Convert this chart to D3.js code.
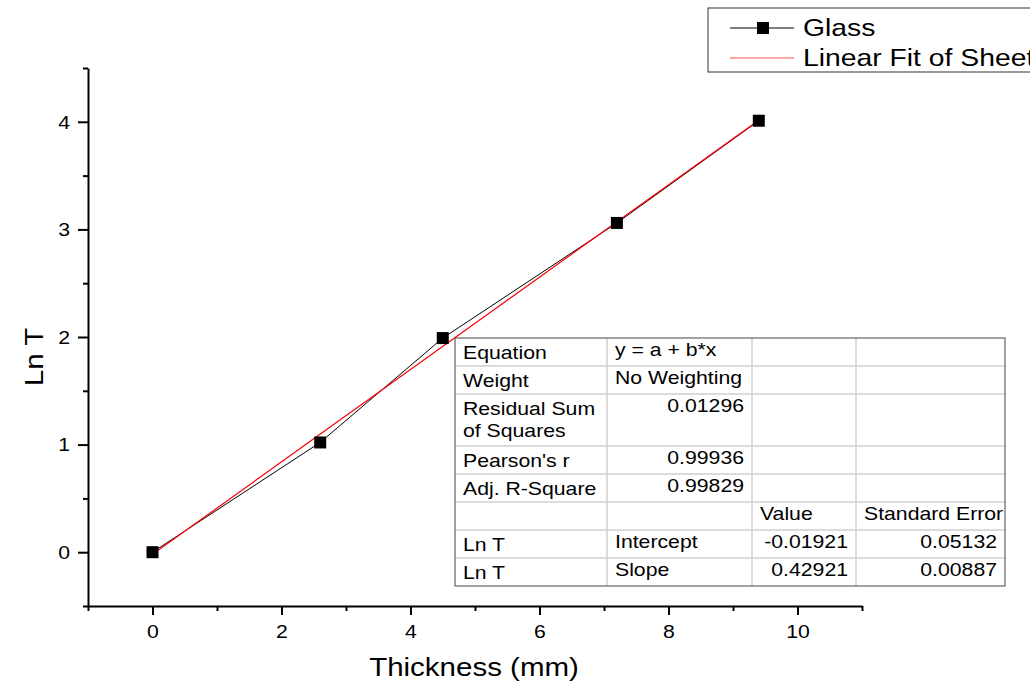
<!DOCTYPE html>
<html>
<head>
<meta charset="utf-8">
<script src="https://cdn.jsdelivr.net/npm/d3@7"></script>
<style>
  body { margin: 0; background: #fff; }
  svg { font-family: "Liberation Sans", Arial, sans-serif; display: block; }
  .axis path, .axis line { stroke: #000; stroke-width: 2px; }
  .axis text { font-size: 18px; fill: #000; }
</style>
</head>
<body>
<svg id="chart" width="1030" height="684"></svg>
<script>
// measured points
var thickness = [0, 2.6, 4.5, 7.2, 9.4];
var lnT = [0, 1.02, 1.99, 3.06, 4.01];

// fit result
var intercept = -0.01921, slope = 0.42921;

var xTicks = [0, 2, 4, 6, 8, 10];
var yTicks = [0, 1, 2, 3, 4];
var xMinor = [-1, 1, 3, 5, 7, 9, 11];
var yMinor = [-0.5, 0.5, 1.5, 2.5, 3.5, 4.5];

var legendLabels = ["Glass", "Linear Fit of Sheet1 B"];

// fit statistics table
var statLabels = ["Equation", "Weight", "Residual Sum\nof Squares", "Pearson's r", "Adj. R-Square"];
var statValues = ["y = a + b*x", "No Weighting", "0.01296", "0.99936", "0.99829"];
var paramHeader = ["", "", "Value", "Standard Error"];
var paramRows = [
    ["Ln T", "Intercept", "-0.01921", "0.05132"],
    ["Ln T", "Slope", "0.42921", "0.00887"]
];

var K = 1.18; // the original's text is a bit wider than Arial

// widen text around its own anchor point
function stretch(sel) {
    sel.each(function() {
        var t = d3.select(this),
            tx = +t.attr("x") || 0,
            ty = +t.attr("y") || 0;
        t.attr("transform", "translate(" + tx + "," + ty + ") scale(" + K + ",1) translate(" + (-tx) + "," + (-ty) + ")");
    });
}

var svg = d3.select("#chart"),
    margin = {top: 68, right: 168, bottom: 78, left: 88},
    width = svg.attr("width") - margin.left - margin.right,
    height = svg.attr("height") - margin.top - margin.bottom;

var x = d3.scaleLinear().domain([-1, 11]).range([0, width]),
    y = d3.scaleLinear().domain([-0.5, 4.5]).range([height, 0]);

var g = svg.append("g")
    .attr("transform", "translate(" + margin.left + "," + margin.top + ")");

// minor ticks
g.append("g")
    .attr("class", "axis")
    .attr("transform", "translate(0," + height + ")")
    .call(d3.axisBottom(x).tickValues(xMinor).tickSize(5).tickSizeOuter(0).tickFormat(""))
    .select(".domain").remove();

g.append("g")
    .attr("class", "axis")
    .call(d3.axisLeft(y).tickValues(yMinor).tickSize(5).tickSizeOuter(0).tickFormat(""))
    .select(".domain").remove();

// major axes
g.append("g")
    .attr("class", "axis")
    .attr("transform", "translate(0," + height + ")")
    .call(d3.axisBottom(x).tickValues(xTicks).tickSize(9).tickSizeOuter(0).tickPadding(10).tickFormat(d3.format("d")))
    .selectAll("text").call(stretch);

g.append("g")
    .attr("class", "axis")
    .call(d3.axisLeft(y).tickValues(yTicks).tickSize(10).tickSizeOuter(0).tickPadding(8).tickFormat(d3.format("d")))
    .selectAll("text").attr("dy", "0.35em").call(stretch);

// axis titles
svg.append("text")
    .attr("x", 474)
    .attr("y", 676)
    .attr("text-anchor", "middle")
    .style("font-size", "25px")
    .text("Thickness (mm)")
    .call(stretch);

svg.append("text")
    .attr("transform", "translate(43,357) rotate(-90) scale(" + K + ",1)")
    .attr("text-anchor", "middle")
    .style("font-size", "25px")
    .text("Ln T");

var pts = thickness.map(function(d, i) { return {x: d, y: lnT[i]}; });

var line = d3.line()
    .x(function(d) { return x(d.x); })
    .y(function(d) { return y(d.y); });

g.append("path")
    .datum(pts)
    .attr("fill", "none")
    .attr("stroke", "#000")
    .attr("stroke-width", 1)
    .attr("d", line);

var fitExt = d3.extent(thickness);
g.append("path")
    .datum(fitExt.map(function(v) { return {x: v, y: intercept + slope * v}; }))
    .attr("fill", "none")
    .attr("stroke", "#ff0000")
    .attr("stroke-width", 1.2)
    .attr("d", line);

g.selectAll(".pt")
    .data(pts)
    .enter().append("rect")
    .attr("class", "pt")
    .attr("x", function(d) { return x(d.x) - 6; })
    .attr("y", function(d) { return y(d.y) - 6; })
    .attr("width", 12)
    .attr("height", 12)
    .attr("fill", "#000");

// legend
var lg = svg.append("g").attr("transform", "translate(708,8)");
lg.append("rect")
    .attr("width", 400).attr("height", 64)
    .attr("fill", "#fff").attr("stroke", "#333").attr("stroke-width", 1);
lg.append("line").attr("x1", 22).attr("x2", 86).attr("y1", 20).attr("y2", 20)
    .attr("stroke", "#000");
lg.append("rect").attr("x", 49).attr("y", 14).attr("width", 12).attr("height", 12).attr("fill", "#000");
lg.append("line").attr("x1", 22).attr("x2", 86).attr("y1", 50).attr("y2", 50)
    .attr("stroke", "#ff5050").attr("stroke-width", 1.2);
lg.selectAll(".lt")
    .data(legendLabels)
    .enter().append("text")
    .attr("x", 95)
    .attr("y", function(d, i) { return 28 + i * 30; })
    .style("font-size", "24px")
    .text(function(d) { return d; })
    .call(stretch);

// stats table
var colX = [455, 607, 752, 856, 1005];
var rowY = [338, 366, 394, 446, 474, 502, 530, 558, 586];
var tb = svg.append("g");
tb.append("rect")
    .attr("x", colX[0]).attr("y", rowY[0])
    .attr("width", colX[4] - colX[0]).attr("height", rowY[8] - rowY[0])
    .attr("fill", "#fff");
rowY.slice(1, -1).forEach(function(ry) {
    tb.append("line").attr("x1", colX[0]).attr("x2", colX[4]).attr("y1", ry).attr("y2", ry)
        .attr("stroke", "#cfcfcf").attr("stroke-width", 1.5);
});
colX.slice(1, -1).forEach(function(cx) {
    tb.append("line").attr("x1", cx).attr("x2", cx).attr("y1", rowY[0]).attr("y2", rowY[8])
        .attr("stroke", "#cfcfcf").attr("stroke-width", 1.5);
});
tb.append("rect")
    .attr("x", colX[0]).attr("y", rowY[0])
    .attr("width", colX[4] - colX[0]).attr("height", rowY[8] - rowY[0])
    .attr("fill", "none").attr("stroke", "#444").attr("stroke-width", 1);

function cell(txt, col, row, align, dy) {
    var lines = txt.split("\n");
    var tx = align === "end" ? colX[col + 1] - 8 : colX[col] + 8;
    lines.forEach(function(l, k) {
        tb.append("text")
            .attr("x", tx)
            .attr("y", rowY[row] + 21 + dy + k * 22)
            .attr("text-anchor", align)
            .style("font-size", "18px")
            .text(l)
            .call(stretch);
    });
}

statLabels.forEach(function(s, i) {
    cell(s, 0, i, "start", 0);
    cell(statValues[i], 1, i, i < 2 ? "start" : "end", -3);
});
paramHeader.forEach(function(s, j) { if (s) cell(s, j, 5, "start", -3); });
paramRows.forEach(function(r, i) {
    cell(r[0], 0, 6 + i, "start", 0);
    cell(r[1], 1, 6 + i, "start", -3);
    cell(r[2], 2, 6 + i, "end", -3);
    cell(r[3], 3, 6 + i, "end", -3);
});
</script>
</body>
</html>
